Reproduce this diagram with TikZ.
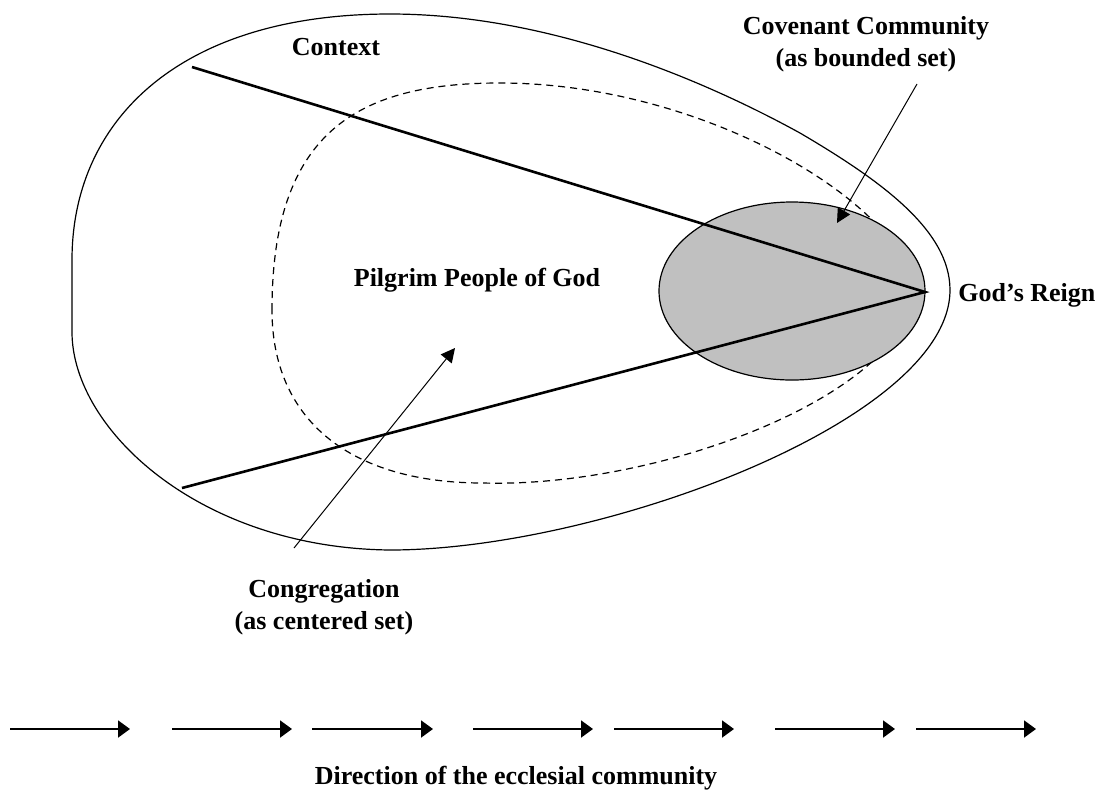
\documentclass[tikz,border=0pt]{standalone}
\usepackage{fontspec}
\setmainfont{Liberation Serif}
\usetikzlibrary{arrows.meta,shapes.geometric}
\definecolor{setgray}{RGB}{192,192,192}
\begin{document}
\begin{tikzpicture}[x=0.5pt,y=-0.5pt,
  lbl/.style={font=\bfseries\fontsize{13}{16}\selectfont, align=center, inner sep=0pt},
  outline/.style={line width=0.6pt},
  dashline/.style={line width=0.6pt, dash pattern=on 3.5pt off 2.5pt},
  ray/.style={line width=1.3pt},
  pointer/.style={line width=0.5pt, -{Triangle[length=7pt,width=7pt]}},
  flow/.style={line width=1pt, -{Triangle[length=6pt,width=8.5pt]}}]
\useasboundingbox (0,0) rectangle (1105,805);
\fill[white] (0,0) rectangle (1105,805);
% outer context egg
\draw[outline] (950,290) .. controls (950,230) and (880,180) .. (800,133)
  .. controls (720,89) and (560,14) .. (390,14)
  .. controls (180,14) and (72,120) .. (72,260) -- (72,333)
  .. controls (73,430) and (200,548) .. (390,550)
  .. controls (600,550) and (950,420) .. (950,290) -- cycle;
% dashed congregation
\draw[dashline] (272,310) .. controls (272,130) and (360,83) .. (500,83)
  .. controls (700,83) and (900,200) .. (915,290)
  .. controls (905,395) and (660,488) .. (483,483)
  .. controls (350,483) and (272,420) .. (272,310) -- cycle;
% covenant community
\node[draw, line width=0.6pt, fill=setgray, ellipse, minimum width=133pt, minimum height=89pt, inner sep=0pt] (cov) at (792,291) {};
% rays
\coordinate (reign) at (925,292);
\coordinate (rtop) at (192,67);
\coordinate (rbot) at (182,488);
\draw[ray] (rtop) -- (reign) -- (rbot);
% labels
\node[lbl] (context) at (336,47) {Context};
\node[lbl] (covlbl) at (866,44) {Covenant Community\\(as bounded set)};
\node[lbl] (pilgrim) at (477,280) {Pilgrim People of God};
\node[lbl, anchor=west] (reignlbl) at (958,295) {God’s Reign};
\node[lbl] (conglbl) at (324,607) {Congregation\\(as centered set)};
\node[lbl] (dirlbl) at (516,778) {Direction of the ecclesial community};
% pointers
\coordinate (covstart) at (917,84);
\coordinate (covtip) at (837,223);
\draw[pointer] (covstart) -- (covtip);
\coordinate (congstart) at (294,548);
\coordinate (congtip) at (455,348);
\draw[pointer] (congstart) -- (congtip);
% direction arrows
\foreach \i/\s/\e in {1/10/130, 2/172/292, 3/312/433, 4/473/593, 5/614/734, 6/775/895, 7/916/1036} {
  \coordinate (s\i) at (\s,729);
  \coordinate (e\i) at (\e,729);
  \draw[flow] (s\i) -- (e\i);
}
\end{tikzpicture}
\end{document}
